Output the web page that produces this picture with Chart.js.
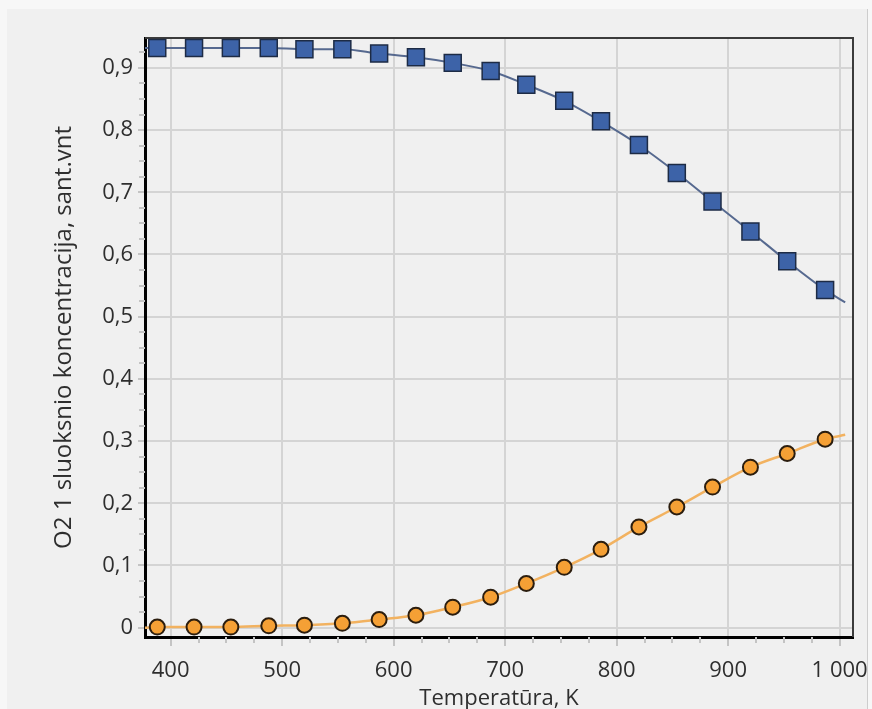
<!DOCTYPE html>
<html><head><meta charset="utf-8">
<script src="https://cdn.jsdelivr.net/npm/chart.js@4/dist/chart.umd.min.js"></script>
<style>
html,body{margin:0;padding:0;background:#f7f7f7;overflow:hidden;width:872px;height:709px}
#wrap{position:absolute;left:7px;top:9px;width:860px;height:700px;background:#f0f0f0;border-right:1px solid #cdcdcd}
canvas{display:block}
</style></head><body>
<div id="wrap"><canvas id="c" width="860" height="700"></canvas></div>
<script>
// Temperature (K) of each measured point
const temperatures = [388, 421, 454, 488, 520, 554, 587, 620, 653, 687, 719, 753, 786, 820, 854, 886, 920, 953, 987];
// Series 1 (blue squares)
const seriesBlue = [0.932, 0.932, 0.932, 0.932, 0.930, 0.930, 0.923, 0.917, 0.908, 0.895, 0.873, 0.847, 0.814, 0.776, 0.731, 0.685, 0.637, 0.589, 0.543];
// Series 2 (orange circles)
const seriesOrange = [0.001, 0.001, 0.001, 0.003, 0.004, 0.007, 0.013, 0.020, 0.033, 0.049, 0.071, 0.097, 0.126, 0.162, 0.194, 0.226, 0.258, 0.280, 0.303];
// Fitted curve end points (beyond the markers)
const curveEdgeX = [377, 1005];
const curveBlueEdges = [0.932, 0.523];
const curveOrangeEdges = [0.000, 0.310];
// Tick labels
const xTickValues = [400, 500, 600, 700, 800, 900, 1000];
const yTickValues = [0, 0.1, 0.2, 0.3, 0.4, 0.5, 0.6, 0.7, 0.8, 0.9];
const xTitle = 'Temperatūra, K';
const yTitle = 'O2 1 sluoksnio koncentracija, sant.vnt';

const pts = (xs, ys) => xs.map((x, i) => ({x, y: ys[i]}));
const curve = (ys, edges) => [{x: curveEdgeX[0], y: edges[0]}, ...pts(temperatures, ys), {x: curveEdgeX[1], y: edges[1]}];

const FONT = '"Open Sans", "Noto Sans", sans-serif';
const TXT = '#2e2e2e';

const framePlugin = {
  id: 'frame',
  beforeDatasetsDraw(chart) {
    const {ctx, chartArea: a, scales: {x, y}} = chart;
    ctx.save();
    // minor ticks
    ctx.strokeStyle = '#c4c4c4';
    ctx.lineWidth = 2;
    ctx.beginPath();
    for (let v = Math.ceil(x.min / 25) * 25; v <= x.max; v += 25) {
      if (v % 100 === 0) continue;
      const px = Math.round(x.getPixelForValue(v));
      ctx.moveTo(px, a.bottom); ctx.lineTo(px, a.bottom + 6);
    }
    for (let k = Math.ceil(y.min / 0.025); k * 0.025 <= y.max; k++) {
      if (k % 4 === 0) continue;
      const py = Math.round(y.getPixelForValue(k * 0.025));
      ctx.moveTo(a.left, py); ctx.lineTo(a.left - 6, py);
    }
    ctx.stroke();
    // top / right frame
    ctx.strokeStyle = '#3c3c3c';
    ctx.lineWidth = 2;
    ctx.beginPath();
    ctx.moveTo(a.left, a.top); ctx.lineTo(a.right, a.top); ctx.lineTo(a.right, a.bottom);
    ctx.stroke();
    ctx.restore();
  }
};

new Chart(document.getElementById('c'), {
  type: 'line',
  data: {
    datasets: [
      {data: curve(seriesBlue, curveBlueEdges), borderColor: '#56698f', borderWidth: 2, pointRadius: 0, cubicInterpolationMode: 'monotone', order: 3},
      {data: curve(seriesOrange, curveOrangeEdges), borderColor: '#f2b260', borderWidth: 2.5, pointRadius: 0, cubicInterpolationMode: 'monotone', order: 4},
      {data: pts(temperatures, seriesBlue), showLine: false, pointStyle: 'rect', pointRadius: 12, backgroundColor: '#3d63a8', borderColor: '#1d2b45', borderWidth: 1.5, order: 1},
      {data: pts(temperatures, seriesOrange), showLine: false, pointStyle: 'circle', pointRadius: 7.5, backgroundColor: '#f5a035', borderColor: '#2b1d0e', borderWidth: 2, order: 2}
    ]
  },
  options: {
    responsive: false,
    animation: false,
    events: [],
    layout: {padding: {left: 43, top: 29, right: 14, bottom: 0}},
    plugins: {legend: {display: false}, tooltip: {enabled: false}},
    scales: {
      x: {
        type: 'linear', min: 377, max: 1012,
        afterBuildTicks: s => { s.ticks = xTickValues.map(v => ({value: v})); },
        afterFit: s => { s.height = 72; s.paddingLeft = 0; s.paddingRight = 0; },
        grid: {color: '#d4d4d4', lineWidth: 2, tickLength: 9, tickColor: '#c4c4c4'},
        border: {display: true, color: '#000', width: 3},
        ticks: {color: TXT, font: {family: FONT, size: 22}, padding: 12, maxRotation: 0,
          callback: v => String(v).replace(/\B(?=(\d{3})+(?!\d))/g, ' ')},
        title: {display: true, text: xTitle, color: TXT, font: {family: FONT, size: 22}, padding: {top: 0, bottom: -3}}
      },
      y: {
        min: -0.015, max: 0.948,
        afterBuildTicks: s => { s.ticks = yTickValues.map(v => ({value: v})); },
        afterFit: s => { s.width = 95; s.paddingTop = 0; s.paddingBottom = 0; },
        grid: {color: '#d4d4d4', lineWidth: 2, tickLength: 7, tickColor: '#c4c4c4'},
        border: {display: true, color: '#000', width: 3},
        ticks: {color: TXT, font: {family: FONT, size: 22}, padding: 5,
          callback: v => v === 0 ? '0' : v.toFixed(1).replace('.', ',')},
        title: {display: true, text: yTitle, color: TXT, font: {family: FONT, size: 24}, padding: {top: 0, bottom: 0}}
      }
    }
  },
  plugins: [framePlugin]
});
</script>
</body></html>
